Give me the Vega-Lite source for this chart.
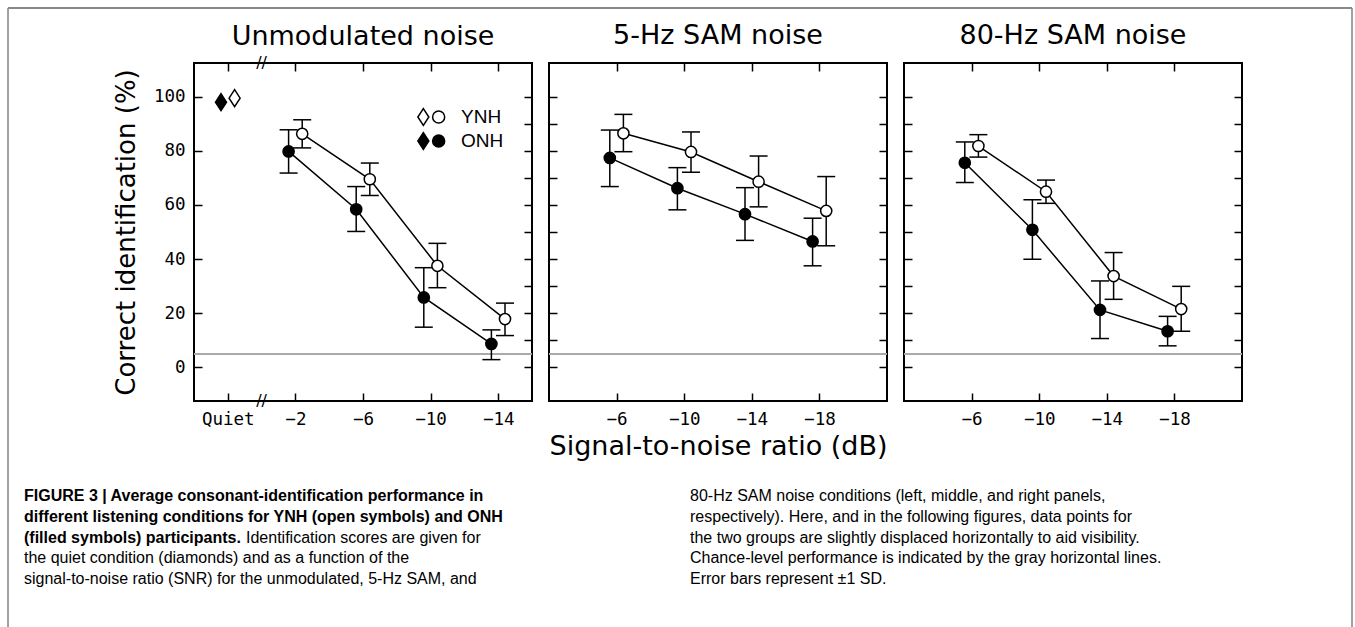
{
  "$schema": "https://vega.github.io/schema/vega-lite/v6.json",
  "background": "white",
  "padding": {"left": 6, "top": 6, "right": 1, "bottom": 0},
  "config": {
    "view": {"stroke": "black", "strokeWidth": 2},
    "axis": {"domain": false, "grid": false, "labelFont": "DejaVu Sans Mono", "labelFontSize": 17.5, "labelColor": "black", "tickColor": "black", "tickWidth": 1.5, "titleFont": "DejaVu Sans", "titleFontSize": 26, "titleFontWeight": "normal", "titleColor": "black", "labelFlush": false, "labelOverlap": false},
    "title": {"font": "DejaVu Sans", "fontSize": 27, "fontWeight": "normal", "color": "black", "anchor": "middle", "frame": "group", "baseline": "alphabetic", "offset": 12}
  },
  "datasets": {
    "scores": [
      {"cond": "Unmodulated noise", "group": "ONH", "snr": "Quiet", "mean": 98.0},
      {"cond": "Unmodulated noise", "group": "YNH", "snr": "Quiet", "mean": 99.5},
      {"cond": "Unmodulated noise", "group": "ONH", "snr": "-2", "mean": 79.8, "lo": 71.8, "hi": 87.8},
      {"cond": "Unmodulated noise", "group": "ONH", "snr": "-6", "mean": 58.4, "lo": 50.2, "hi": 66.8},
      {"cond": "Unmodulated noise", "group": "ONH", "snr": "-10", "mean": 25.8, "lo": 14.8, "hi": 36.8},
      {"cond": "Unmodulated noise", "group": "ONH", "snr": "-14", "mean": 8.6, "lo": 2.8, "hi": 13.8},
      {"cond": "Unmodulated noise", "group": "YNH", "snr": "-2", "mean": 86.3, "lo": 81.1, "hi": 91.5},
      {"cond": "Unmodulated noise", "group": "YNH", "snr": "-6", "mean": 69.5, "lo": 63.5, "hi": 75.5},
      {"cond": "Unmodulated noise", "group": "YNH", "snr": "-10", "mean": 37.5, "lo": 29.4, "hi": 45.8},
      {"cond": "Unmodulated noise", "group": "YNH", "snr": "-14", "mean": 17.8, "lo": 11.7, "hi": 23.7},
      {"cond": "5-Hz SAM noise", "group": "ONH", "snr": "-6", "mean": 77.4, "lo": 66.8, "hi": 87.7},
      {"cond": "5-Hz SAM noise", "group": "ONH", "snr": "-10", "mean": 66.2, "lo": 58.2, "hi": 73.8},
      {"cond": "5-Hz SAM noise", "group": "ONH", "snr": "-14", "mean": 56.6, "lo": 46.9, "hi": 66.4},
      {"cond": "5-Hz SAM noise", "group": "ONH", "snr": "-18", "mean": 46.5, "lo": 37.5, "hi": 55.1},
      {"cond": "5-Hz SAM noise", "group": "YNH", "snr": "-6", "mean": 86.5, "lo": 79.7, "hi": 93.5},
      {"cond": "5-Hz SAM noise", "group": "YNH", "snr": "-10", "mean": 79.6, "lo": 72.1, "hi": 87.0},
      {"cond": "5-Hz SAM noise", "group": "YNH", "snr": "-14", "mean": 68.6, "lo": 59.3, "hi": 78.1},
      {"cond": "5-Hz SAM noise", "group": "YNH", "snr": "-18", "mean": 57.8, "lo": 44.9, "hi": 70.5},
      {"cond": "80-Hz SAM noise", "group": "ONH", "snr": "-6", "mean": 75.6, "lo": 68.3, "hi": 83.3},
      {"cond": "80-Hz SAM noise", "group": "ONH", "snr": "-10", "mean": 50.8, "lo": 39.9, "hi": 61.9},
      {"cond": "80-Hz SAM noise", "group": "ONH", "snr": "-14", "mean": 21.2, "lo": 10.6, "hi": 31.9},
      {"cond": "80-Hz SAM noise", "group": "ONH", "snr": "-18", "mean": 13.3, "lo": 7.9, "hi": 18.8},
      {"cond": "80-Hz SAM noise", "group": "YNH", "snr": "-6", "mean": 81.8, "lo": 77.7, "hi": 86.0},
      {"cond": "80-Hz SAM noise", "group": "YNH", "snr": "-10", "mean": 64.9, "lo": 60.6, "hi": 69.2},
      {"cond": "80-Hz SAM noise", "group": "YNH", "snr": "-14", "mean": 33.7, "lo": 25.1, "hi": 42.4},
      {"cond": "80-Hz SAM noise", "group": "YNH", "snr": "-18", "mean": 21.5, "lo": 13.3, "hi": 29.9}
    ],
    "caption": [
      {"col": "left", "line": 1, "part": "title", "text": "FIGURE 3 | Average consonant-identification performance in"},
      {"col": "left", "line": 2, "part": "title", "text": "different listening conditions for YNH (open symbols) and ONH"},
      {"col": "left", "line": 3, "part": "title", "text": "(filled symbols) participants."},
      {"col": "left", "line": 3, "part": "body", "text": "Identification scores are given for"},
      {"col": "left", "line": 4, "part": "body", "text": "the quiet condition (diamonds) and as a function of the"},
      {"col": "left", "line": 5, "part": "body", "text": "signal-to-noise ratio (SNR) for the unmodulated, 5-Hz SAM, and"},
      {"col": "right", "line": 1, "part": "body", "text": "80-Hz SAM noise conditions (left, middle, and right panels,"},
      {"col": "right", "line": 2, "part": "body", "text": "respectively). Here, and in the following figures, data points for"},
      {"col": "right", "line": 3, "part": "body", "text": "the two groups are slightly displaced horizontally to aid visibility."},
      {"col": "right", "line": 4, "part": "body", "text": "Chance-level performance is indicated by the gray horizontal lines."},
      {"col": "right", "line": 5, "part": "body", "text": "Error bars represent ±1 SD."}
    ]
  },
  "hconcat": [
    {
      "width": 338, "height": 338,
      "title": {"text": "Unmodulated noise", "offset": -44},
      "layer": [
        {
          "data": {"name": "scores"},
          "transform": [{"filter": "datum.cond === 'Unmodulated noise'"}],
          "layer": [
            {
              "mark": {"type": "rule", "color": "#aaaaaa", "strokeWidth": 1.5, "x2Offset": 18},
              "encoding": {
                "y": {"datum": 4.76, "type": "quantitative", "scale": {"domain": [-12.5, 112.5], "nice": false, "zero": false}, "axis": {"title": "Correct identification (%)", "values": [0, 10, 20, 30, 40, 50, 60, 70, 80, 90, 100], "labelExpr": "datum.value % 20 === 0 ? datum.label : ''", "tickSize": -8, "labelPadding": 17, "titlePadding": 14}}
              }
            },
            {
              "transform": [{"filter": "datum.snr !== 'Quiet'"}],
              "mark": {"type": "line", "color": "black", "strokeWidth": 1.5, "xOffset": {"expr": "datum.group === 'ONH' ? -6.8 : 6.8"}},
              "encoding": {
                "x": {"field": "snr", "type": "ordinal", "scale": {"type": "point", "domain": ["Quiet", "-2", "-6", "-10", "-14"], "padding": 0.5}, "axis": {"title": null, "labelExpr": "replace(datum.label, '-', '−')", "tickSize": -8, "labelPadding": 17, "labelAngle": 0}},
                "y": {"field": "mean", "type": "quantitative", "scale": {"domain": [-12.5, 112.5], "nice": false, "zero": false}, "axis": {"title": "Correct identification (%)", "values": [0, 10, 20, 30, 40, 50, 60, 70, 80, 90, 100], "labelExpr": "datum.value % 20 === 0 ? datum.label : ''", "tickSize": -8, "labelPadding": 17, "titlePadding": 14}},
                "detail": {"field": "group"},
                "order": {"value": null}
              }
            },
            {
              "transform": [{"filter": "datum.snr !== 'Quiet'"}],
              "mark": {"type": "rule", "color": "black", "strokeWidth": 1.5, "xOffset": {"expr": "datum.group === 'ONH' ? -6.8 : 6.8"}},
              "encoding": {
                "x": {"field": "snr", "type": "ordinal", "scale": {"type": "point", "domain": ["Quiet", "-2", "-6", "-10", "-14"], "padding": 0.5}, "axis": {"title": null, "labelExpr": "replace(datum.label, '-', '−')", "tickSize": -8, "labelPadding": 17, "labelAngle": 0}},
                "y": {"field": "lo", "type": "quantitative", "scale": {"domain": [-12.5, 112.5], "nice": false, "zero": false}, "axis": {"title": "Correct identification (%)", "values": [0, 10, 20, 30, 40, 50, 60, 70, 80, 90, 100], "labelExpr": "datum.value % 20 === 0 ? datum.label : ''", "tickSize": -8, "labelPadding": 17, "titlePadding": 14}},
                "y2": {"field": "hi"}
              }
            },
            {
              "transform": [{"filter": "datum.snr !== 'Quiet'"}],
              "mark": {"type": "tick", "orient": "horizontal", "size": 18, "thickness": 1.5, "color": "black", "opacity": 1, "xOffset": {"expr": "datum.group === 'ONH' ? -6.8 : 6.8"}},
              "encoding": {
                "x": {"field": "snr", "type": "ordinal", "scale": {"type": "point", "domain": ["Quiet", "-2", "-6", "-10", "-14"], "padding": 0.5}, "axis": {"title": null, "labelExpr": "replace(datum.label, '-', '−')", "tickSize": -8, "labelPadding": 17, "labelAngle": 0}},
                "y": {"field": "lo", "type": "quantitative", "scale": {"domain": [-12.5, 112.5], "nice": false, "zero": false}, "axis": {"title": "Correct identification (%)", "values": [0, 10, 20, 30, 40, 50, 60, 70, 80, 90, 100], "labelExpr": "datum.value % 20 === 0 ? datum.label : ''", "tickSize": -8, "labelPadding": 17, "titlePadding": 14}}
              }
            },
            {
              "transform": [{"filter": "datum.snr !== 'Quiet'"}],
              "mark": {"type": "tick", "orient": "horizontal", "size": 18, "thickness": 1.5, "color": "black", "opacity": 1, "xOffset": {"expr": "datum.group === 'ONH' ? -6.8 : 6.8"}},
              "encoding": {
                "x": {"field": "snr", "type": "ordinal", "scale": {"type": "point", "domain": ["Quiet", "-2", "-6", "-10", "-14"], "padding": 0.5}, "axis": {"title": null, "labelExpr": "replace(datum.label, '-', '−')", "tickSize": -8, "labelPadding": 17, "labelAngle": 0}},
                "y": {"field": "hi", "type": "quantitative", "scale": {"domain": [-12.5, 112.5], "nice": false, "zero": false}, "axis": {"title": "Correct identification (%)", "values": [0, 10, 20, 30, 40, 50, 60, 70, 80, 90, 100], "labelExpr": "datum.value % 20 === 0 ? datum.label : ''", "tickSize": -8, "labelPadding": 17, "titlePadding": 14}}
              }
            },
            {
              "transform": [{"filter": "datum.snr !== 'Quiet'"}],
              "mark": {"type": "point", "shape": "circle", "size": 125, "filled": true, "stroke": "black", "strokeWidth": 1.5, "opacity": 1, "xOffset": {"expr": "datum.group === 'ONH' ? -6.8 : 6.8"}},
              "encoding": {
                "x": {"field": "snr", "type": "ordinal", "scale": {"type": "point", "domain": ["Quiet", "-2", "-6", "-10", "-14"], "padding": 0.5}, "axis": {"title": null, "labelExpr": "replace(datum.label, '-', '−')", "tickSize": -8, "labelPadding": 17, "labelAngle": 0}},
                "y": {"field": "mean", "type": "quantitative", "scale": {"domain": [-12.5, 112.5], "nice": false, "zero": false}, "axis": {"title": "Correct identification (%)", "values": [0, 10, 20, 30, 40, 50, 60, 70, 80, 90, 100], "labelExpr": "datum.value % 20 === 0 ? datum.label : ''", "tickSize": -8, "labelPadding": 17, "titlePadding": 14}},
                "fill": {"field": "group", "type": "nominal", "scale": {"domain": ["YNH", "ONH"], "range": ["white", "black"]}, "legend": {"title": null, "orient": "none", "legendX": 227, "legendY": 44, "padding": 0, "symbolType": "M-0.85,-0.94L-0.24,0L-0.85,0.94L-1.46,0ZM1.52,0A0.67,0.67,0,1,1,0.18,0A0.67,0.67,0,1,1,1.52,0Z", "symbolSize": 324, "symbolStrokeColor": "black", "symbolStrokeWidth": 1.5, "symbolOpacity": 1, "labelFont": "Liberation Sans", "labelFontSize": 19, "labelColor": "black", "labelOffset": 20, "rowPadding": 0}}
              }
            },
            {
              "transform": [{"filter": "datum.snr === 'Quiet'"}],
              "mark": {"type": "point", "shape": "M0,-1L0.65,0L0,1L-0.65,0Z", "size": 289, "filled": true, "stroke": "black", "strokeWidth": 1.5, "opacity": 1, "xOffset": {"expr": "datum.group === 'ONH' ? -6.8 : 6.8"}},
              "encoding": {
                "x": {"field": "snr", "type": "ordinal", "scale": {"type": "point", "domain": ["Quiet", "-2", "-6", "-10", "-14"], "padding": 0.5}, "axis": {"title": null, "labelExpr": "replace(datum.label, '-', '−')", "tickSize": -8, "labelPadding": 17, "labelAngle": 0}},
                "y": {"field": "mean", "type": "quantitative", "scale": {"domain": [-12.5, 112.5], "nice": false, "zero": false}, "axis": {"title": "Correct identification (%)", "values": [0, 10, 20, 30, 40, 50, 60, 70, 80, 90, 100], "labelExpr": "datum.value % 20 === 0 ? datum.label : ''", "tickSize": -8, "labelPadding": 17, "titlePadding": 14}},
                "fill": {"field": "group", "type": "nominal", "scale": {"domain": ["YNH", "ONH"], "range": ["white", "black"]}, "legend": null}
              }
            },
            {
              "data": {"values": [{"mark": "axis break"}]},
              "mark": {"type": "text", "text": "//", "font": "DejaVu Sans", "fontSize": 16, "color": "black", "align": "center", "baseline": "middle", "xOffset": 33.8},
              "encoding": {
                "x": {"datum": "Quiet", "type": "ordinal", "scale": {"type": "point", "domain": ["Quiet", "-2", "-6", "-10", "-14"], "padding": 0.5}},
                "y": {"datum": 112.5, "type": "quantitative"}
              }
            },
            {
              "data": {"values": [{"mark": "axis break"}]},
              "mark": {"type": "text", "text": "//", "font": "DejaVu Sans", "fontSize": 16, "color": "black", "align": "center", "baseline": "middle", "xOffset": 33.8},
              "encoding": {
                "x": {"datum": "Quiet", "type": "ordinal", "scale": {"type": "point", "domain": ["Quiet", "-2", "-6", "-10", "-14"], "padding": 0.5}},
                "y": {"datum": -12.5, "type": "quantitative"}
              }
            }
          ]
        },
        {
          "data": {"name": "scores"},
          "transform": [{"filter": "datum.cond === 'Unmodulated noise'"}],
          "mark": {"type": "point", "opacity": 0},
          "encoding": {
            "x": {"field": "snr", "type": "ordinal", "scale": {"type": "point", "domain": ["Quiet", "-2", "-6", "-10", "-14"], "padding": 0.5}, "axis": {"orient": "top", "labels": false, "title": null, "tickSize": -8}},
            "y": {"field": "mean", "type": "quantitative", "scale": {"domain": [-12.5, 112.5], "nice": false, "zero": false}, "axis": {"orient": "right", "labels": false, "title": null, "tickSize": -8, "values": [0, 10, 20, 30, 40, 50, 60, 70, 80, 90, 100]}}
          }
        },
        {
          "data": {"name": "caption"},
          "layer": [
            {
              "transform": [{"filter": "datum.part === 'title'"}],
              "mark": {"type": "text", "align": "left", "baseline": "middle", "font": "Liberation Sans", "fontSize": 16, "fontWeight": "bold", "color": "black"},
              "encoding": {
                "x": {"field": "col", "type": "nominal", "scale": {"type": "point", "domain": ["left", "right"], "range": [-170, 496], "padding": 0}, "axis": null},
                "y": {"field": "line", "type": "ordinal", "scale": {"type": "point", "domain": [1, 2, 3, 4, 5], "range": [433, 516], "padding": 0}, "axis": null},
                "text": {"field": "text"}
              }
            },
            {
              "transform": [{"filter": "datum.part === 'body' && !(datum.col === 'left' && datum.line === 3)"}],
              "mark": {"type": "text", "align": "left", "baseline": "middle", "font": "Liberation Sans", "fontSize": 16, "color": "black"},
              "encoding": {
                "x": {"field": "col", "type": "nominal", "scale": {"type": "point", "domain": ["left", "right"], "range": [-170, 496], "padding": 0}, "axis": null},
                "y": {"field": "line", "type": "ordinal", "scale": {"type": "point", "domain": [1, 2, 3, 4, 5], "range": [433, 516], "padding": 0}, "axis": null},
                "text": {"field": "text"}
              }
            },
            {
              "transform": [{"filter": "datum.part === 'body' && datum.col === 'left' && datum.line === 3"}],
              "mark": {"type": "text", "align": "left", "baseline": "middle", "font": "Liberation Sans", "fontSize": 16, "color": "black", "dx": 222},
              "encoding": {
                "x": {"field": "col", "type": "nominal", "scale": {"type": "point", "domain": ["left", "right"], "range": [-170, 496], "padding": 0}, "axis": null},
                "y": {"field": "line", "type": "ordinal", "scale": {"type": "point", "domain": [1, 2, 3, 4, 5], "range": [433, 516], "padding": 0}, "axis": null},
                "text": {"field": "text"}
              }
            }
          ]
        },
        {
          "data": {"values": [{"frame": "figure"}]},
          "layer": [
            {
              "mark": {"type": "rule", "color": "#444444", "strokeWidth": 1},
              "encoding": {
                "x": {"datum": 0, "type": "quantitative", "scale": {"domain": [0, 1], "range": [-186, 1158], "nice": false, "zero": false}, "axis": null},
                "y": {"datum": 0, "type": "quantitative", "scale": {"domain": [0, 1], "range": [564, -55], "nice": false, "zero": false}, "axis": null},
                "y2": {"datum": 1}
              }
            },
            {
              "mark": {"type": "rule", "color": "#444444", "strokeWidth": 1},
              "encoding": {
                "x": {"datum": 1, "type": "quantitative", "scale": {"domain": [0, 1], "range": [-186, 1158], "nice": false, "zero": false}, "axis": null},
                "y": {"datum": 0, "type": "quantitative", "scale": {"domain": [0, 1], "range": [564, -55], "nice": false, "zero": false}, "axis": null},
                "y2": {"datum": 1}
              }
            },
            {
              "mark": {"type": "rule", "color": "#888888", "strokeWidth": 2},
              "encoding": {
                "x": {"datum": 0, "type": "quantitative", "scale": {"domain": [0, 1], "range": [-186, 1158], "nice": false, "zero": false}, "axis": null},
                "x2": {"datum": 1},
                "y": {"datum": 1, "type": "quantitative", "scale": {"domain": [0, 1], "range": [564, -55], "nice": false, "zero": false}, "axis": null}
              }
            }
          ]
        }
      ],
      "resolve": {"scale": {"x": "independent", "y": "independent"}}
    },
    {
      "width": 338, "height": 338,
      "title": {"text": "5-Hz SAM noise"},
      "data": {"name": "scores"},
      "transform": [{"filter": "datum.cond === '5-Hz SAM noise'"}],
      "layer": [
        {
          "layer": [
            {
              "mark": {"type": "rule", "color": "#aaaaaa", "strokeWidth": 1.5, "x2Offset": 17},
              "encoding": {
                "y": {"datum": 4.76, "type": "quantitative", "scale": {"domain": [-12.5, 112.5], "nice": false, "zero": false}, "axis": {"title": null, "labels": false, "values": [0, 10, 20, 30, 40, 50, 60, 70, 80, 90, 100], "tickSize": -8}}
              }
            },
            {
              "mark": {"type": "line", "color": "black", "strokeWidth": 1.5, "xOffset": {"expr": "datum.group === 'ONH' ? -6.8 : 6.8"}},
              "encoding": {
                "x": {"field": "snr", "type": "ordinal", "scale": {"type": "point", "domain": ["-6", "-10", "-14", "-18"], "padding": 1}, "axis": {"title": "Signal-to-noise ratio (dB)", "titleFontSize": 27, "titlePadding": 6, "labelExpr": "replace(datum.label, '-', '−')", "tickSize": -8, "labelPadding": 17, "labelAngle": 0}},
                "y": {"field": "mean", "type": "quantitative", "scale": {"domain": [-12.5, 112.5], "nice": false, "zero": false}, "axis": {"title": null, "labels": false, "values": [0, 10, 20, 30, 40, 50, 60, 70, 80, 90, 100], "tickSize": -8}},
                "detail": {"field": "group"},
                "order": {"value": null}
              }
            },
            {
              "mark": {"type": "rule", "color": "black", "strokeWidth": 1.5, "xOffset": {"expr": "datum.group === 'ONH' ? -6.8 : 6.8"}},
              "encoding": {
                "x": {"field": "snr", "type": "ordinal", "scale": {"type": "point", "domain": ["-6", "-10", "-14", "-18"], "padding": 1}, "axis": {"title": "Signal-to-noise ratio (dB)", "titleFontSize": 27, "titlePadding": 6, "labelExpr": "replace(datum.label, '-', '−')", "tickSize": -8, "labelPadding": 17, "labelAngle": 0}},
                "y": {"field": "lo", "type": "quantitative", "scale": {"domain": [-12.5, 112.5], "nice": false, "zero": false}, "axis": {"title": null, "labels": false, "values": [0, 10, 20, 30, 40, 50, 60, 70, 80, 90, 100], "tickSize": -8}},
                "y2": {"field": "hi"}
              }
            },
            {
              "mark": {"type": "tick", "orient": "horizontal", "size": 18, "thickness": 1.5, "color": "black", "opacity": 1, "xOffset": {"expr": "datum.group === 'ONH' ? -6.8 : 6.8"}},
              "encoding": {
                "x": {"field": "snr", "type": "ordinal", "scale": {"type": "point", "domain": ["-6", "-10", "-14", "-18"], "padding": 1}, "axis": {"title": "Signal-to-noise ratio (dB)", "titleFontSize": 27, "titlePadding": 6, "labelExpr": "replace(datum.label, '-', '−')", "tickSize": -8, "labelPadding": 17, "labelAngle": 0}},
                "y": {"field": "lo", "type": "quantitative", "scale": {"domain": [-12.5, 112.5], "nice": false, "zero": false}, "axis": {"title": null, "labels": false, "values": [0, 10, 20, 30, 40, 50, 60, 70, 80, 90, 100], "tickSize": -8}}
              }
            },
            {
              "mark": {"type": "tick", "orient": "horizontal", "size": 18, "thickness": 1.5, "color": "black", "opacity": 1, "xOffset": {"expr": "datum.group === 'ONH' ? -6.8 : 6.8"}},
              "encoding": {
                "x": {"field": "snr", "type": "ordinal", "scale": {"type": "point", "domain": ["-6", "-10", "-14", "-18"], "padding": 1}, "axis": {"title": "Signal-to-noise ratio (dB)", "titleFontSize": 27, "titlePadding": 6, "labelExpr": "replace(datum.label, '-', '−')", "tickSize": -8, "labelPadding": 17, "labelAngle": 0}},
                "y": {"field": "hi", "type": "quantitative", "scale": {"domain": [-12.5, 112.5], "nice": false, "zero": false}, "axis": {"title": null, "labels": false, "values": [0, 10, 20, 30, 40, 50, 60, 70, 80, 90, 100], "tickSize": -8}}
              }
            },
            {
              "mark": {"type": "point", "shape": "circle", "size": 125, "filled": true, "stroke": "black", "strokeWidth": 1.5, "opacity": 1, "xOffset": {"expr": "datum.group === 'ONH' ? -6.8 : 6.8"}},
              "encoding": {
                "x": {"field": "snr", "type": "ordinal", "scale": {"type": "point", "domain": ["-6", "-10", "-14", "-18"], "padding": 1}, "axis": {"title": "Signal-to-noise ratio (dB)", "titleFontSize": 27, "titlePadding": 6, "labelExpr": "replace(datum.label, '-', '−')", "tickSize": -8, "labelPadding": 17, "labelAngle": 0}},
                "y": {"field": "mean", "type": "quantitative", "scale": {"domain": [-12.5, 112.5], "nice": false, "zero": false}, "axis": {"title": null, "labels": false, "values": [0, 10, 20, 30, 40, 50, 60, 70, 80, 90, 100], "tickSize": -8}},
                "fill": {"field": "group", "type": "nominal", "scale": {"domain": ["YNH", "ONH"], "range": ["white", "black"]}, "legend": null}
              }
            }
          ]
        },
        {
          "mark": {"type": "point", "opacity": 0},
          "encoding": {
            "x": {"field": "snr", "type": "ordinal", "scale": {"type": "point", "domain": ["-6", "-10", "-14", "-18"], "padding": 1}, "axis": {"orient": "top", "labels": false, "title": null, "tickSize": -8}},
            "y": {"field": "mean", "type": "quantitative", "scale": {"domain": [-12.5, 112.5], "nice": false, "zero": false}, "axis": {"orient": "right", "labels": false, "title": null, "tickSize": -8, "values": [0, 10, 20, 30, 40, 50, 60, 70, 80, 90, 100]}}
          }
        }
      ],
      "resolve": {"scale": {"x": "independent", "y": "independent"}}
    },
    {
      "width": 338, "height": 338,
      "title": {"text": "80-Hz SAM noise"},
      "data": {"name": "scores"},
      "transform": [{"filter": "datum.cond === '80-Hz SAM noise'"}],
      "layer": [
        {
          "layer": [
            {
              "mark": {"type": "rule", "color": "#aaaaaa", "strokeWidth": 1.5},
              "encoding": {
                "y": {"datum": 4.76, "type": "quantitative", "scale": {"domain": [-12.5, 112.5], "nice": false, "zero": false}, "axis": {"title": null, "labels": false, "values": [0, 10, 20, 30, 40, 50, 60, 70, 80, 90, 100], "tickSize": -8}}
              }
            },
            {
              "mark": {"type": "line", "color": "black", "strokeWidth": 1.5, "xOffset": {"expr": "datum.group === 'ONH' ? -6.8 : 6.8"}},
              "encoding": {
                "x": {"field": "snr", "type": "ordinal", "scale": {"type": "point", "domain": ["-6", "-10", "-14", "-18"], "padding": 1}, "axis": {"title": null, "labelExpr": "replace(datum.label, '-', '−')", "tickSize": -8, "labelPadding": 17, "labelAngle": 0}},
                "y": {"field": "mean", "type": "quantitative", "scale": {"domain": [-12.5, 112.5], "nice": false, "zero": false}, "axis": {"title": null, "labels": false, "values": [0, 10, 20, 30, 40, 50, 60, 70, 80, 90, 100], "tickSize": -8}},
                "detail": {"field": "group"},
                "order": {"value": null}
              }
            },
            {
              "mark": {"type": "rule", "color": "black", "strokeWidth": 1.5, "xOffset": {"expr": "datum.group === 'ONH' ? -6.8 : 6.8"}},
              "encoding": {
                "x": {"field": "snr", "type": "ordinal", "scale": {"type": "point", "domain": ["-6", "-10", "-14", "-18"], "padding": 1}, "axis": {"title": null, "labelExpr": "replace(datum.label, '-', '−')", "tickSize": -8, "labelPadding": 17, "labelAngle": 0}},
                "y": {"field": "lo", "type": "quantitative", "scale": {"domain": [-12.5, 112.5], "nice": false, "zero": false}, "axis": {"title": null, "labels": false, "values": [0, 10, 20, 30, 40, 50, 60, 70, 80, 90, 100], "tickSize": -8}},
                "y2": {"field": "hi"}
              }
            },
            {
              "mark": {"type": "tick", "orient": "horizontal", "size": 18, "thickness": 1.5, "color": "black", "opacity": 1, "xOffset": {"expr": "datum.group === 'ONH' ? -6.8 : 6.8"}},
              "encoding": {
                "x": {"field": "snr", "type": "ordinal", "scale": {"type": "point", "domain": ["-6", "-10", "-14", "-18"], "padding": 1}, "axis": {"title": null, "labelExpr": "replace(datum.label, '-', '−')", "tickSize": -8, "labelPadding": 17, "labelAngle": 0}},
                "y": {"field": "lo", "type": "quantitative", "scale": {"domain": [-12.5, 112.5], "nice": false, "zero": false}, "axis": {"title": null, "labels": false, "values": [0, 10, 20, 30, 40, 50, 60, 70, 80, 90, 100], "tickSize": -8}}
              }
            },
            {
              "mark": {"type": "tick", "orient": "horizontal", "size": 18, "thickness": 1.5, "color": "black", "opacity": 1, "xOffset": {"expr": "datum.group === 'ONH' ? -6.8 : 6.8"}},
              "encoding": {
                "x": {"field": "snr", "type": "ordinal", "scale": {"type": "point", "domain": ["-6", "-10", "-14", "-18"], "padding": 1}, "axis": {"title": null, "labelExpr": "replace(datum.label, '-', '−')", "tickSize": -8, "labelPadding": 17, "labelAngle": 0}},
                "y": {"field": "hi", "type": "quantitative", "scale": {"domain": [-12.5, 112.5], "nice": false, "zero": false}, "axis": {"title": null, "labels": false, "values": [0, 10, 20, 30, 40, 50, 60, 70, 80, 90, 100], "tickSize": -8}}
              }
            },
            {
              "mark": {"type": "point", "shape": "circle", "size": 125, "filled": true, "stroke": "black", "strokeWidth": 1.5, "opacity": 1, "xOffset": {"expr": "datum.group === 'ONH' ? -6.8 : 6.8"}},
              "encoding": {
                "x": {"field": "snr", "type": "ordinal", "scale": {"type": "point", "domain": ["-6", "-10", "-14", "-18"], "padding": 1}, "axis": {"title": null, "labelExpr": "replace(datum.label, '-', '−')", "tickSize": -8, "labelPadding": 17, "labelAngle": 0}},
                "y": {"field": "mean", "type": "quantitative", "scale": {"domain": [-12.5, 112.5], "nice": false, "zero": false}, "axis": {"title": null, "labels": false, "values": [0, 10, 20, 30, 40, 50, 60, 70, 80, 90, 100], "tickSize": -8}},
                "fill": {"field": "group", "type": "nominal", "scale": {"domain": ["YNH", "ONH"], "range": ["white", "black"]}, "legend": null}
              }
            }
          ]
        },
        {
          "mark": {"type": "point", "opacity": 0},
          "encoding": {
            "x": {"field": "snr", "type": "ordinal", "scale": {"type": "point", "domain": ["-6", "-10", "-14", "-18"], "padding": 1}, "axis": {"orient": "top", "labels": false, "title": null, "tickSize": -8}},
            "y": {"field": "mean", "type": "quantitative", "scale": {"domain": [-12.5, 112.5], "nice": false, "zero": false}, "axis": {"orient": "right", "labels": false, "title": null, "tickSize": -8, "values": [0, 10, 20, 30, 40, 50, 60, 70, 80, 90, 100]}}
          }
        }
      ],
      "resolve": {"scale": {"x": "independent", "y": "independent"}}
    }
  ],
  "spacing": 17,
  "bounds": "flush",
  "resolve": {"scale": {"fill": "independent"}, "legend": {"fill": "independent"}}
}
